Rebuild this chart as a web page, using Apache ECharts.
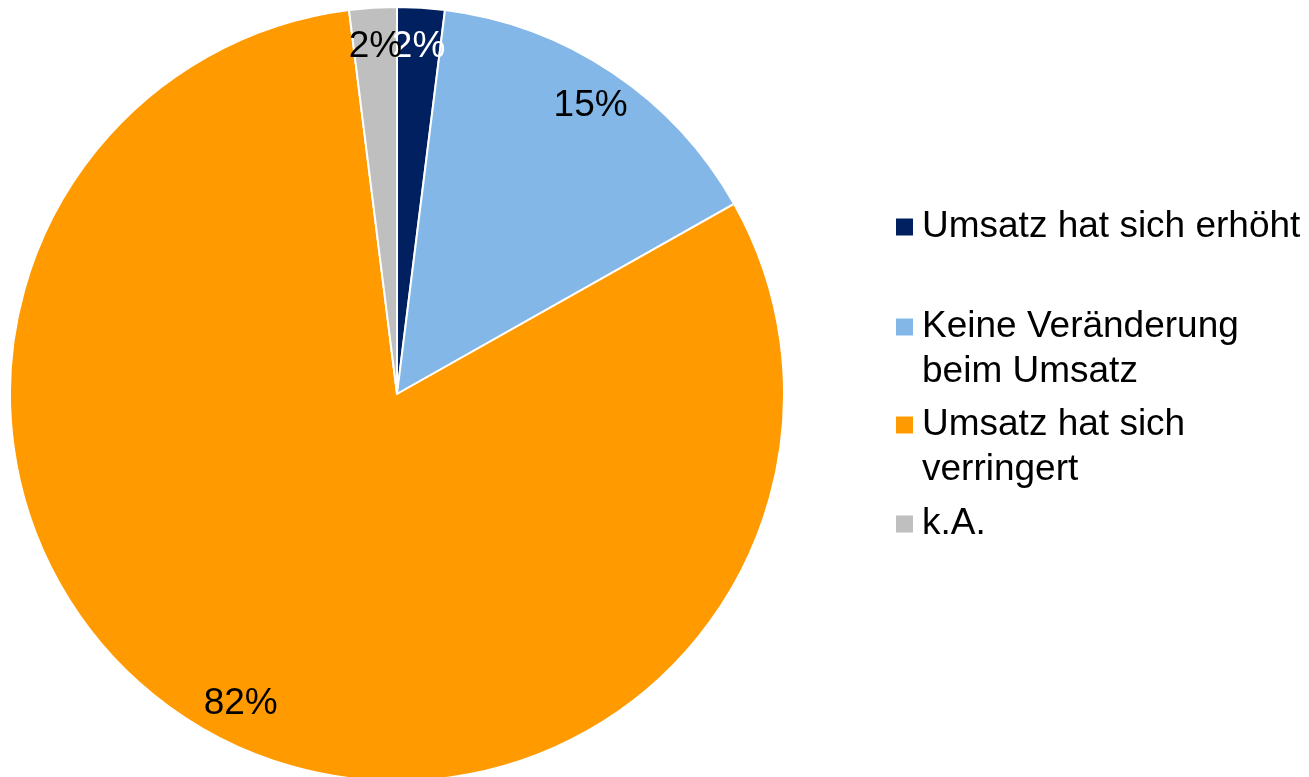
<!DOCTYPE html>
<html>
<head>
<meta charset="utf-8">
<script src="https://cdn.jsdelivr.net/npm/echarts@6/dist/echarts.min.js"></script>
<style>
  html, body { margin: 0; padding: 0; background: #fff; }
  #chart { width: 1309px; height: 777px; }
</style>
</head>
<body>
<div id="chart"></div>
<script>
// values as printed on the slices (they add up to 101, the pie shares them out)
var categories = ['Umsatz hat sich erhöht', 'Keine Veränderung beim Umsatz', 'Umsatz hat sich verringert', 'k.A.'];
var legendFirstLine = ['Umsatz hat sich erhöht', 'Keine Veränderung', 'Umsatz hat sich', 'k.A.'];
var legendSecondLine = ['', 'beim Umsatz', 'verringert', ''];
var values = [2, 15, 82, 2];
var colors = ['#002060', '#83B7E8', '#FF9A00', '#BFBFBF'];
var labelColors = ['#ffffff', '#000000', '#000000', '#000000'];

var FONT = 'Liberation Sans, Arial, sans-serif';
var FS = 37;
var CX = 397, CY = 394, R = 387;

var chart = echarts.init(document.getElementById('chart'));

var pieData = categories.map(function (c, i) {
  return { name: c, value: values[i], itemStyle: { color: colors[i] } };
});
var labelData = categories.map(function (c, i) {
  return { name: c, value: values[i], label: { color: labelColors[i] } };
});

// one legend per entry, so each one sits where it does in the picture
var legendCenters = [227, 327, 425, 524];
var legends = categories.map(function (c, i) {
  return {
    orient: 'vertical',
    left: 896,
    top: legendCenters[i] - 21.5,
    padding: 0,
    itemWidth: 17,
    itemHeight: 17,
    icon: 'rect',
    selectedMode: false,
    itemStyle: { borderWidth: 0 },
    data: [{ name: c, itemStyle: { color: colors[i], borderWidth: 0 } }],
    formatter: function () { return legendFirstLine[i]; },
    textStyle: {
      fontFamily: FONT,
      fontSize: FS,
      color: '#000',
      lineHeight: 43,
      padding: [0, 0, 0, 4]
    }
  };
});

// wrapped second lines of the legend text
var graphics = [];
legendSecondLine.forEach(function (t, i) {
  if (!t) return;
  graphics.push({
    type: 'text',
    left: 922,
    top: legendCenters[i] + 45 - 21.5,
    style: {
      text: t,
      fontFamily: FONT,
      fontSize: FS,
      fill: '#000',
      lineHeight: 43
    }
  });
});

var option = {
  animation: false,
  backgroundColor: '#fff',
  legend: legends,
  graphic: graphics,
  series: [
    {
      type: 'pie',
      center: [CX, CY],
      radius: R,
      startAngle: 90,
      silent: true,
      label: { show: false },
      labelLine: { show: false },
      itemStyle: { borderColor: '#fff', borderWidth: 2 },
      data: pieData
    },
    {
      // transparent ring, only used to place the labels at ~0.89 R
      type: 'pie',
      center: [CX, CY],
      radius: [R * 0.78, R],
      startAngle: 90,
      silent: true,
      avoidLabelOverlap: false,
      labelLayout: { hideOverlap: false },
      itemStyle: { color: 'rgba(0,0,0,0)' },
      label: {
        show: true,
        position: 'inside',
        fontFamily: FONT,
        fontSize: FS,
        formatter: function (p) { return p.value + '%'; }
      },
      labelLine: { show: false },
      data: labelData
    }
  ]
};

chart.setOption(option);
</script>
</body>
</html>
